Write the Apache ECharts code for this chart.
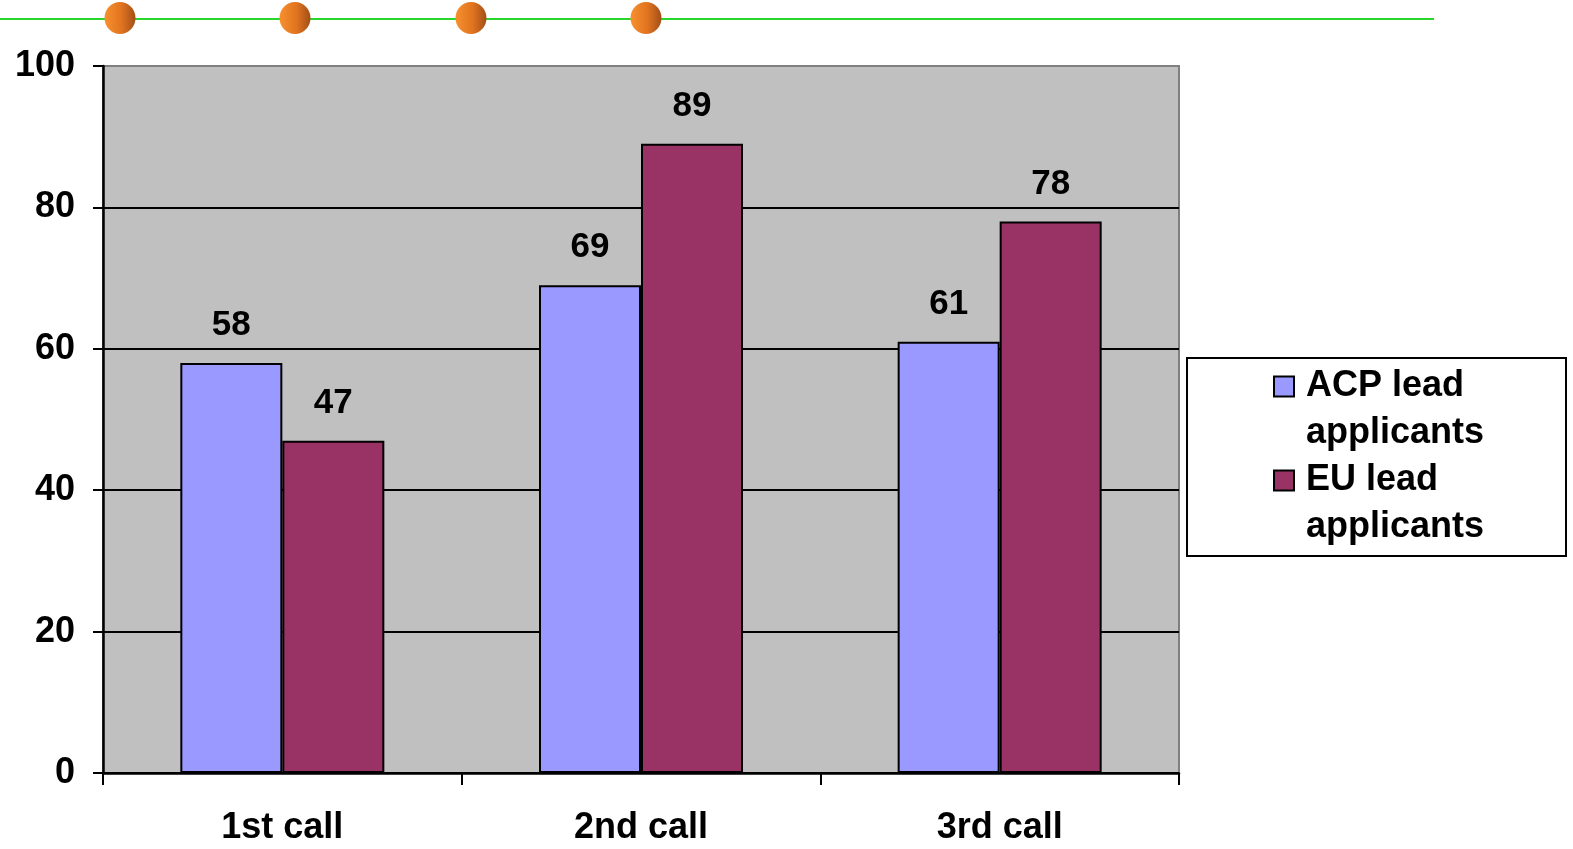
<!DOCTYPE html>
<html>
<head>
<meta charset="utf-8">
<script src="https://cdn.jsdelivr.net/npm/echarts@6/dist/echarts.min.js"></script>
<style>
html,body{margin:0;padding:0;background:#fff;}
#main{width:1573px;height:849px;}
</style>
</head>
<body>
<div id="main"></div>
<script>
const categories = ['1st call', '2nd call', '3rd call'];
const acpValues = [58, 69, 61];
const euValues = [47, 89, 78];
const seriesNames = ['ACP lead\napplicants', 'EU lead\napplicants'];
const yTicks = [0, 20, 40, 60, 80, 100];

const FONT = '"Liberation Sans", Arial, sans-serif';
const chart = echarts.init(document.getElementById('main'), null, {renderer: 'canvas'});

const dotXs = [120, 295, 471, 646];
const orangeGrad = new echarts.graphic.LinearGradient(0, 0, 1, 0, [
  {offset: 0, color: '#F8902F'},
  {offset: 0.55, color: '#E07420'},
  {offset: 1, color: '#A24E18'}
]);

const labelStyle = {
  show: true, position: 'top', distance: 20,
  fontFamily: FONT, fontWeight: 'bold', fontSize: 35, color: '#000'
};

const option = {
  backgroundColor: '#ffffff',
  animation: false,
  graphic: [
    {type: 'line', shape: {x1: 0, y1: 19, x2: 1434, y2: 19}, style: {stroke: '#2BD62B', lineWidth: 2}, z: 10},
  ].concat(dotXs.map(x => ({
    type: 'ellipse', shape: {cx: x, cy: 18, rx: 15.5, ry: 16},
    style: {fill: orangeGrad}, z: 11
  }))),
  grid: {
    left: 103, top: 66, right: 394, bottom: 76,
    show: true, backgroundColor: '#C0C0C0', borderColor: '#808080', borderWidth: 2
  },
  legend: {
    orient: 'vertical',
    left: 1187, top: 358,
    padding: [5, 72, 5, 86],
    itemGap: 0,
    itemWidth: 20, itemHeight: 67,
    icon: 'path://M0,0L20,0L20,20L0,20Z M0,67L0,67',
    borderColor: '#000', borderWidth: 2,
    backgroundColor: '#fff',
    selectedMode: false,
    textStyle: {
      fontFamily: FONT, fontWeight: 'bold', fontSize: 36, color: '#000',
      lineHeight: 47, width: 188, padding: [0, 0, 0, 7]
    },
    data: seriesNames
  },
  xAxis: {
    type: 'category',
    data: categories,
    axisLine: {lineStyle: {color: '#000', width: 2.5}},
    axisTick: {show: true, length: 12, lineStyle: {color: '#000', width: 2}},
    axisLabel: {fontFamily: FONT, fontWeight: 'bold', fontSize: 36, color: '#000', margin: 37},
    splitLine: {show: false}
  },
  yAxis: {
    type: 'value',
    min: yTicks[0], max: yTicks[yTicks.length - 1], interval: 20,
    axisLine: {show: true, lineStyle: {color: '#000', width: 2.5}},
    axisTick: {show: true, length: 10, lineStyle: {color: '#000', width: 2}},
    axisLabel: {fontFamily: FONT, fontWeight: 'bold', fontSize: 36, color: '#000', margin: 28},
    splitLine: {show: true, lineStyle: {color: ['#000', '#000', '#000', '#000', '#000', '#808080'], width: 2}}
  },
  series: [
    {
      name: seriesNames[0], type: 'bar', data: acpValues,
      barWidth: 102, barGap: '0%',
      itemStyle: {color: '#9999FF', borderColor: '#000', borderWidth: 2},
      label: labelStyle
    },
    {
      name: seriesNames[1], type: 'bar', data: euValues,
      barWidth: 102, barGap: '0%',
      itemStyle: {color: '#993366', borderColor: '#000', borderWidth: 2},
      label: labelStyle
    }
  ]
};
chart.setOption(option);
</script>
</body>
</html>
